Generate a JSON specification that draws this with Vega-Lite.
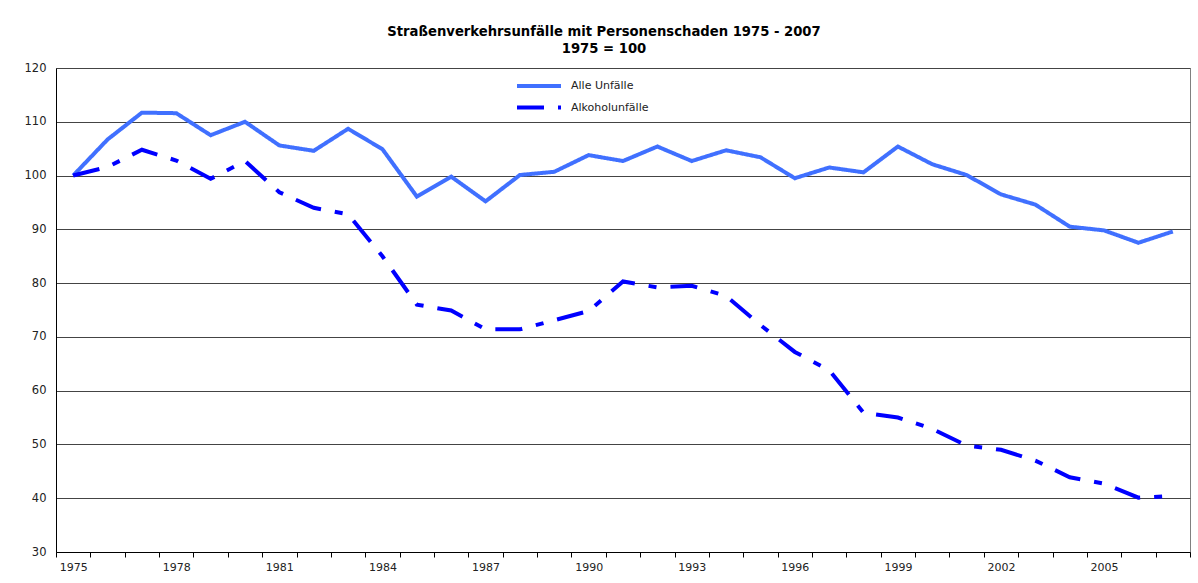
{
  "$schema": "https://vega.github.io/schema/vega-lite/v6.json",
  "width": 1134,
  "height": 484,
  "autosize": "none",
  "padding": {"left": 56, "top": 68, "right": 8, "bottom": 31},
  "background": "white",
  "config": {
    "font": "DejaVu Sans",
    "view": {"stroke": "#808080", "strokeWidth": 1},
    "legend": {
      "orient": "none",
      "legendX": 471,
      "legendY": 6,
      "symbolType": "M-2.2,0H2.2",
      "symbolSize": 400,
      "symbolStrokeWidth": 4,
      "labelFont": "DejaVu Sans",
      "labelFontSize": 11,
      "labelOffset": 20,
      "rowPadding": 1.5,
      "labelColor": "#222222"
    }
  },
  "title": {
    "text": ["Straßenverkehrsunfälle mit Personenschaden 1975 - 2007", "1975 = 100"],
    "font": "DejaVu Sans",
    "fontSize": 13.2,
    "fontWeight": "bold",
    "lineHeight": 17,
    "anchor": "middle",
    "offset": 6,
    "dx": -19,
    "color": "#000000"
  },
  "data": {
    "values": [
      {"year": 1975, "Alle Unfälle": 100.0, "Alkoholunfälle": 100.0},
      {"year": 1976, "Alle Unfälle": 106.7, "Alkoholunfälle": 101.6},
      {"year": 1977, "Alle Unfälle": 111.7, "Alkoholunfälle": 104.8},
      {"year": 1978, "Alle Unfälle": 111.6, "Alkoholunfälle": 102.8},
      {"year": 1979, "Alle Unfälle": 107.5, "Alkoholunfälle": 99.4},
      {"year": 1980, "Alle Unfälle": 110.0, "Alkoholunfälle": 102.7},
      {"year": 1981, "Alle Unfälle": 105.6, "Alkoholunfälle": 96.9},
      {"year": 1982, "Alle Unfälle": 104.6, "Alkoholunfälle": 94.0},
      {"year": 1983, "Alle Unfälle": 108.7, "Alkoholunfälle": 92.8},
      {"year": 1984, "Alle Unfälle": 104.9, "Alkoholunfälle": 85.0},
      {"year": 1985, "Alle Unfälle": 96.1, "Alkoholunfälle": 76.0},
      {"year": 1986, "Alle Unfälle": 99.8, "Alkoholunfälle": 74.9},
      {"year": 1987, "Alle Unfälle": 95.2, "Alkoholunfälle": 71.4},
      {"year": 1988, "Alle Unfälle": 100.1, "Alkoholunfälle": 71.4},
      {"year": 1989, "Alle Unfälle": 100.7, "Alkoholunfälle": 73.1},
      {"year": 1990, "Alle Unfälle": 103.8, "Alkoholunfälle": 74.8},
      {"year": 1991, "Alle Unfälle": 102.7, "Alkoholunfälle": 80.3},
      {"year": 1992, "Alle Unfälle": 105.4, "Alkoholunfälle": 79.2},
      {"year": 1993, "Alle Unfälle": 102.7, "Alkoholunfälle": 79.5},
      {"year": 1994, "Alle Unfälle": 104.7, "Alkoholunfälle": 77.6},
      {"year": 1995, "Alle Unfälle": 103.4, "Alkoholunfälle": 72.2},
      {"year": 1996, "Alle Unfälle": 99.5, "Alkoholunfälle": 67.2},
      {"year": 1997, "Alle Unfälle": 101.5, "Alkoholunfälle": 63.8},
      {"year": 1998, "Alle Unfälle": 100.6, "Alkoholunfälle": 55.9},
      {"year": 1999, "Alle Unfälle": 105.4, "Alkoholunfälle": 55.0},
      {"year": 2000, "Alle Unfälle": 102.1, "Alkoholunfälle": 52.9},
      {"year": 2001, "Alle Unfälle": 100.1, "Alkoholunfälle": 49.8},
      {"year": 2002, "Alle Unfälle": 96.5, "Alkoholunfälle": 49.0},
      {"year": 2003, "Alle Unfälle": 94.6, "Alkoholunfälle": 47.0},
      {"year": 2004, "Alle Unfälle": 90.5, "Alkoholunfälle": 43.9},
      {"year": 2005, "Alle Unfälle": 89.8, "Alkoholunfälle": 42.7},
      {"year": 2006, "Alle Unfälle": 87.5, "Alkoholunfälle": 40.1},
      {"year": 2007, "Alle Unfälle": 89.6, "Alkoholunfälle": 40.4}
    ]
  },
  "transform": [
    {"fold": ["Alle Unfälle", "Alkoholunfälle"], "as": ["series", "value"]}
  ],
  "mark": {"type": "line", "strokeWidth": 4, "strokeCap": "butt", "strokeJoin": "miter"},
  "encoding": {
    "x": {
      "field": "year",
      "type": "ordinal",
      "scale": {"type": "band", "paddingInner": 0, "paddingOuter": 0},
      "axis": {
        "title": null,
        "tickBand": "extent",
        "labelExpr": "(datum.value - 1975) % 3 == 0 ? datum.label : ''",
        "labelAngle": 0,
        "tickSize": 5,
        "tickColor": "#000000",
        "domainColor": "#000000",
        "labelFont": "DejaVu Sans",
        "labelFontSize": 11,
        "labelColor": "#222222",
        "labelPadding": 4,
        "grid": false
      }
    },
    "y": {
      "field": "value",
      "type": "quantitative",
      "scale": {"domain": [30, 120], "nice": false, "zero": false},
      "axis": {
        "title": null,
        "values": [30, 40, 50, 60, 70, 80, 90, 100, 110, 120],
        "ticks": false,
        "labelPadding": 10,
        "labelFont": "DejaVu Sans",
        "labelFontSize": 11.5,
        "labelColor": "#222222",
        "gridColor": "#444444",
        "gridOpacity": 1,
        "domainColor": "#000000"
      }
    },
    "color": {
      "field": "series",
      "type": "nominal",
      "title": null,
      "scale": {"domain": ["Alle Unfälle", "Alkoholunfälle"], "range": ["#4070ff", "#0000ff"]}
    },
    "strokeDash": {
      "field": "series",
      "type": "nominal",
      "title": null,
      "scale": {"domain": ["Alle Unfälle", "Alkoholunfälle"], "range": [[1, 0], [27, 14, 8, 14]]}
    }
  }
}
